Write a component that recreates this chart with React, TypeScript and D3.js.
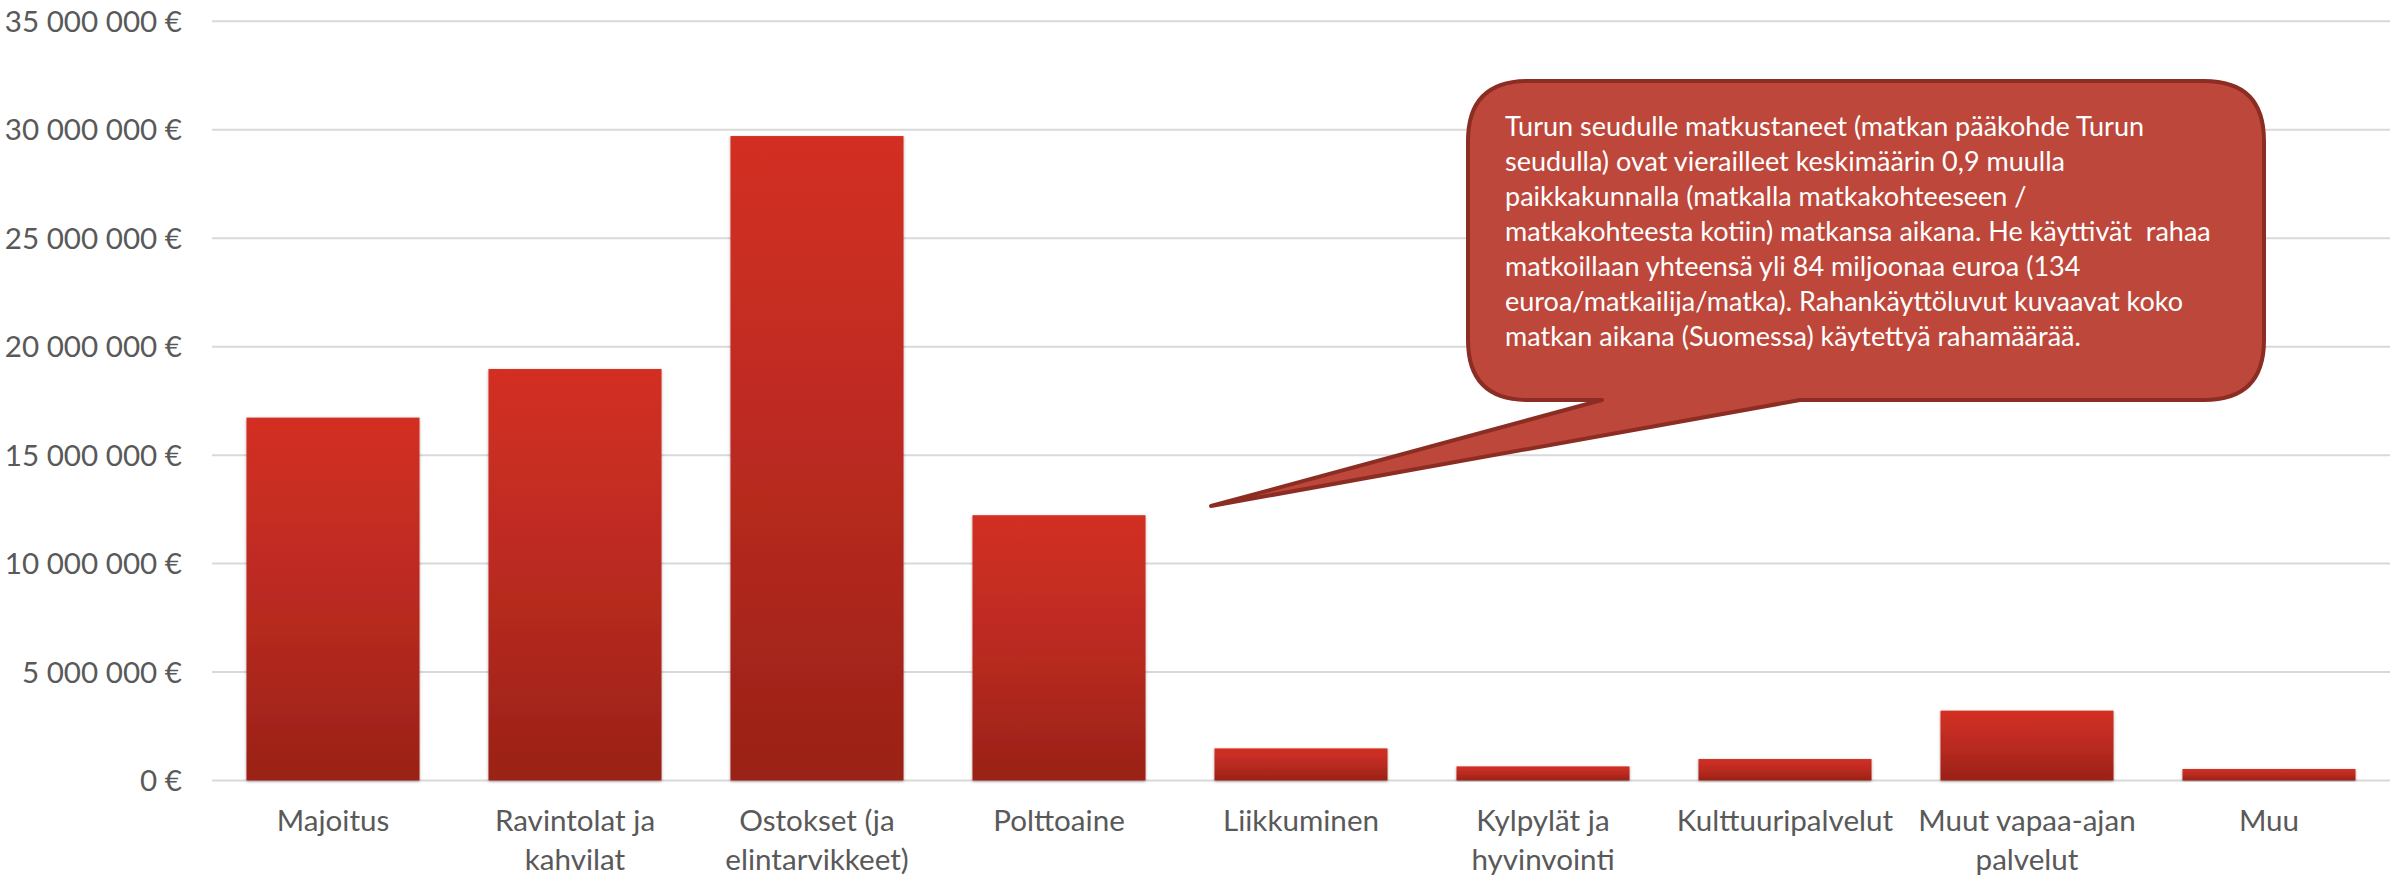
import React from "react";
import * as d3 from "d3";

const categories: string[] = [
  "Majoitus",
  "Ravintolat ja\nkahvilat",
  "Ostokset (ja\nelintarvikkeet)",
  "Polttoaine",
  "Liikkuminen",
  "Kylpylät ja\nhyvinvointi",
  "Kulttuuripalvelut",
  "Muut vapaa-ajan\npalvelut",
  "Muu",
];

const values: number[] = [
  16730000, 18970000, 29710000, 12230000, 1480000, 650000, 990000, 3220000, 530000,
];

const yTicks: number[] = [0, 5000000, 10000000, 15000000, 20000000, 25000000, 30000000, 35000000];

const calloutLines: string[] = [
  "Turun seudulle matkustaneet (matkan pääkohde Turun",
  "seudulla) ovat vierailleet keskimäärin 0,9 muulla",
  "paikkakunnalla (matkalla matkakohteeseen /",
  "matkakohteesta kotiin) matkansa aikana. He käyttivät  rahaa",
  "matkoillaan yhteensä yli 84 miljoonaa euroa (134",
  "euroa/matkailija/matka). Rahankäyttöluvut kuvaavat koko",
  "matkan aikana (Suomessa) käytettyä rahamäärää.",
];

const W = 2402;
const H = 877;
const plotLeft = 212;
const plotRight = 2390;
const plotTop = 21.3;
const plotBottom = 780.5;
const FONT = "Lato, 'Open Sans', sans-serif";

const fmt = (v: number) => {
  const s = d3.format(",")(v).replace(/,/g, " ");
  return `${s} €`;
};

export default function App() {
  const x = d3
    .scaleBand<string>()
    .domain(categories)
    .range([plotLeft, plotRight])
    .paddingInner(0.285)
    .paddingOuter(0.1425);
  const y = d3.scaleLinear().domain([0, 35000000]).range([plotBottom, plotTop]);

  // callout geometry
  const bx0 = 1468, bx1 = 2264, by0 = 81, by1 = 400, r = 60;
  const tip: [number, number] = [1211, 506];
  const tailA = 1602, tailB = 1800;
  const bubble = `M${bx0 + r},${by0}
    L${bx1 - r},${by0} Q${bx1},${by0} ${bx1},${by0 + r}
    L${bx1},${by1 - r} Q${bx1},${by1} ${bx1 - r},${by1}
    L${tailB},${by1} L${tip[0]},${tip[1]} L${tailA},${by1}
    L${bx0 + r},${by1} Q${bx0},${by1} ${bx0},${by1 - r}
    L${bx0},${by0 + r} Q${bx0},${by0} ${bx0 + r},${by0} Z`;

  return (
    <svg
      width={W}
      height={H}
      style={{ position: "absolute", left: 0, top: 0, background: "#fff" }}
      fontFamily={FONT}
    >
      <defs>
        <linearGradient id="barGrad" x1="0" y1="0" x2="0" y2="1">
          <stop offset="0%" stopColor="#D32F22" />
          <stop offset="50%" stopColor="#BA2B20" />
          <stop offset="100%" stopColor="#9A2117" />
        </linearGradient>
        <filter id="barShadow" x="-10%" y="-10%" width="120%" height="120%">
          <feDropShadow dx="0" dy="1" stdDeviation="1.8" floodColor="#000" floodOpacity="0.35" />
        </filter>
      </defs>

      {yTicks.map((t) => (
        <g key={t}>
          <line
            x1={plotLeft}
            x2={plotRight}
            y1={y(t)}
            y2={y(t)}
            stroke="#D9D9D9"
            strokeWidth={2}
          />
          <text x={182} y={y(t) + 10.5} textAnchor="end" fontSize={29.6} fill="#595959">
            {fmt(t)}
          </text>
        </g>
      ))}

      {categories.map((c, i) => (
        <rect
          key={c}
          x={x(c)}
          y={y(values[i])}
          width={x.bandwidth()}
          height={y(0) - y(values[i])}
          fill="url(#barGrad)"
          filter="url(#barShadow)"
        />
      ))}

      {categories.map((c) => {
        const cx = (x(c) as number) + x.bandwidth() / 2;
        return (
          <text key={c} x={cx} y={831} textAnchor="middle" fontSize={29.6} fill="#595959">
            {c.split("\n").map((ln, j) => (
              <tspan key={j} x={cx} dy={j === 0 ? 0 : 39}>
                {ln}
              </tspan>
            ))}
          </text>
        );
      })}

      <path d={bubble} fill="#BE473B" stroke="#8C2D24" strokeWidth={4} strokeLinejoin="round" />
      <text x={1505} y={136} fontSize={27} fill="#FFFFFF" style={{ whiteSpace: "pre" }}>
        {calloutLines.map((ln, j) => (
          <tspan key={j} x={1505} dy={j === 0 ? 0 : 35}>
            {ln}
          </tspan>
        ))}
      </text>
    </svg>
  );
}
